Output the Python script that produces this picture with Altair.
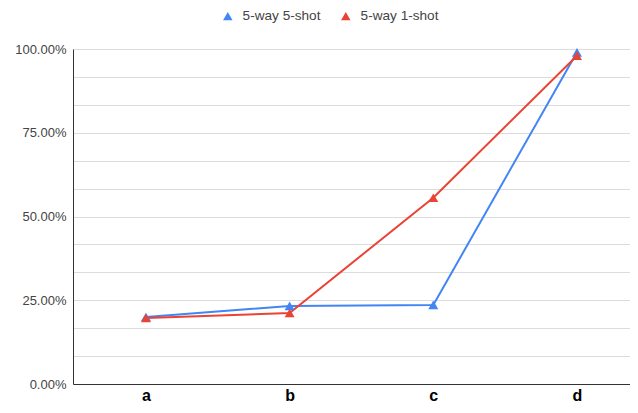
import altair as alt
import pandas as pd

categories = ["a", "b", "c", "d"]
series_names = ["5-way 5-shot", "5-way 1-shot"]
five_shot = [0.200, 0.233, 0.236, 0.990]
one_shot = [0.197, 0.212, 0.556, 0.980]
colors = ["#4285F4", "#EA4335"]
y_grid_values = [i / 12 for i in range(13)]

rows = []
for name, vals in zip(series_names, [five_shot, one_shot]):
    for c, v in zip(categories, vals):
        rows.append({"cat": c, "val": v, "series": name})
df = pd.DataFrame(rows)

FONT = "Liberation Sans"

x_enc = alt.X(
    "cat:N",
    sort=categories,
    scale=alt.Scale(type="point", padding=0.4384, align=0.579),
    axis=alt.Axis(
        title=None,
        labelAngle=0,
        labelFont=FONT,
        labelFontSize=16,
        labelFontWeight="bold",
        labelColor="#000000",
        labelBaseline="alphabetic",
        labelPadding=16,
        ticks=False,
        grid=False,
        domainColor="#333333",
        domainWidth=1,
    ),
)
y_enc = alt.Y(
    "val:Q",
    scale=alt.Scale(domain=[0, 1], nice=False, zero=True),
    axis=alt.Axis(
        title=None,
        values=y_grid_values,
        labelExpr="abs(datum.value*4 - round(datum.value*4)) < 0.001 ? format(datum.value, '.2%') : ''",
        labelFont=FONT,
        labelFontSize=13,
        labelColor="#444444",
        labelPadding=7,
        ticks=False,
        grid=True,
        gridColor="#dcdcdc",
        gridWidth=1,
        domainColor="#333333",
        domainWidth=1,
    ),
)

legend = alt.Legend(
    title=None,
    orient="none",
    legendX=148,
    legendY=-40,
    direction="horizontal",
    symbolType="triangle-up",
    symbolSize=90,
    symbolStrokeWidth=0,
    labelFont=FONT,
    labelFontSize=13.6,
    labelColor="#444444",
    labelOffset=8,
    columnPadding=18,
)
color_enc = alt.Color(
    "series:N",
    scale=alt.Scale(domain=series_names, range=colors),
    sort=series_names,
    legend=legend,
)

base = alt.Chart(df)
lines = base.mark_line(strokeWidth=2).encode(
    x=x_enc, y=y_enc, color=color_enc, detail="series:N",
)
points = base.mark_point(shape="triangle-up", filled=True, size=100, opacity=1).encode(
    x=x_enc, y=y_enc, color=color_enc,
)

chart = (
    alt.layer(lines, points)
    .properties(
        width=557,
        height=335,
        autosize=alt.AutoSizeParams(type="none"),
        padding={"left": 65, "top": 41, "right": 0, "bottom": 21},
        background="white",
    )
    .configure_view(stroke=None)
)

chart.save("out.html", embed_options={"renderer": "svg", "actions": False})
